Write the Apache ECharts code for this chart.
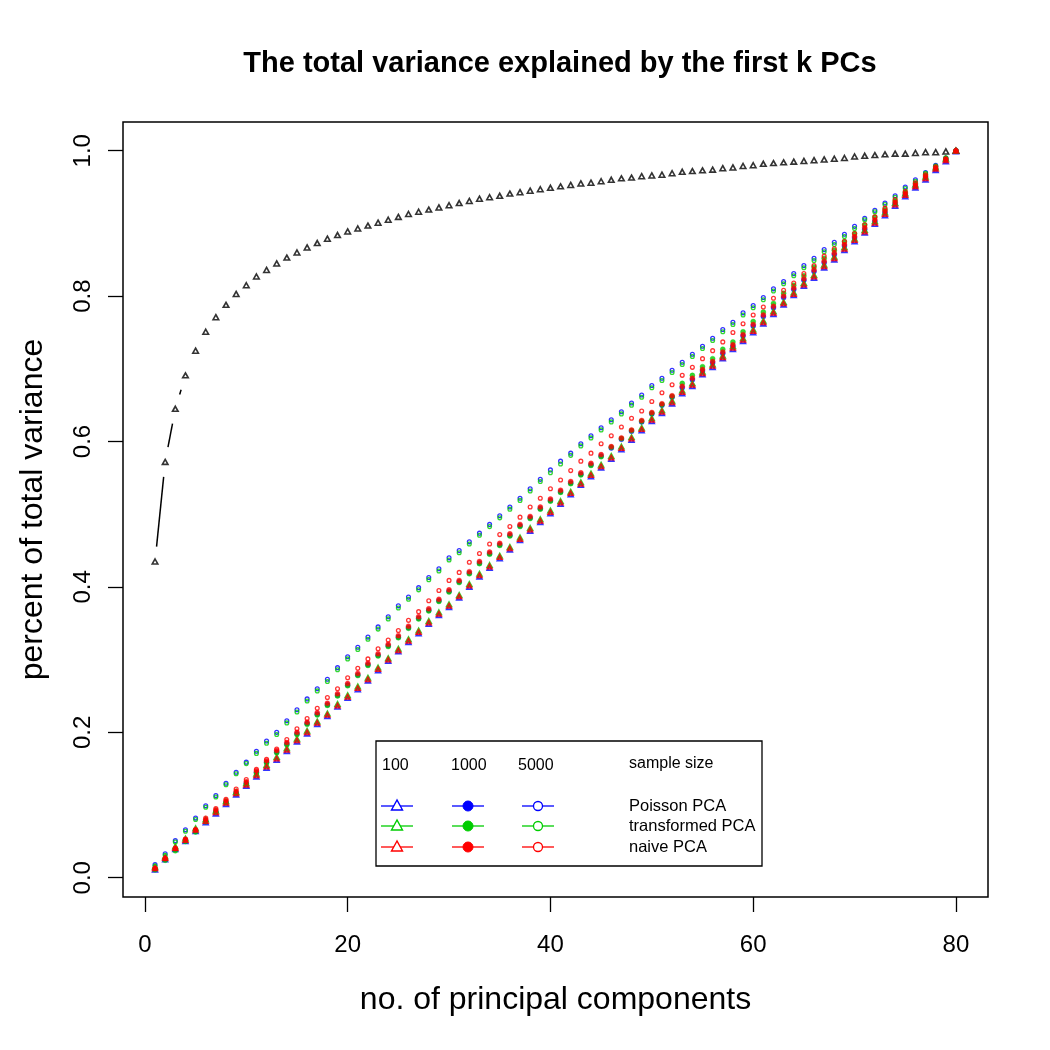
<!DOCTYPE html>
<html>
<head>
<meta charset="utf-8">
<script src="https://cdn.jsdelivr.net/npm/echarts@6/dist/echarts.min.js"></script>
<style>
  html, body { margin: 0; padding: 0; background: #fff; }
  #main { width: 1050px; height: 1050px; }
</style>
</head>
<body>
<div id="main"></div>
<script>
// number of principal components 1..80
var components = [];
for (var k = 1; k <= 80; k++) components.push(k);

var xTicks = [0, 20, 40, 60, 80];
var yTicks = [0, 0.2, 0.4, 0.6, 0.8, 1.0];

// black triangles (the top curve)
var firstKVar = [
  0.435, 0.572, 0.645, 0.691, 0.725, 0.751, 0.771, 0.788, 0.803, 0.815,
  0.827, 0.836, 0.845, 0.853, 0.860, 0.867, 0.873, 0.879, 0.884, 0.889,
  0.893, 0.897, 0.901, 0.905, 0.909, 0.913, 0.916, 0.919, 0.922, 0.925,
  0.928, 0.931, 0.934, 0.936, 0.938, 0.941, 0.943, 0.945, 0.947, 0.949,
  0.951, 0.953, 0.955, 0.956, 0.958, 0.960, 0.962, 0.963, 0.965, 0.966,
  0.967, 0.969, 0.971, 0.972, 0.973, 0.974, 0.976, 0.977, 0.979, 0.980,
  0.982, 0.983, 0.984, 0.985, 0.986, 0.987, 0.988, 0.989, 0.990, 0.992,
  0.993, 0.994, 0.995, 0.996, 0.996, 0.997, 0.998, 0.998, 0.999, 1.000
];

// Poisson PCA
var pois100 = [
  0.011, 0.025, 0.039, 0.050, 0.064, 0.076, 0.088, 0.101, 0.114, 0.126,
  0.139, 0.151, 0.162, 0.174, 0.187, 0.198, 0.211, 0.222, 0.235, 0.247,
  0.259, 0.271, 0.285, 0.298, 0.311, 0.324, 0.336, 0.349, 0.361, 0.372,
  0.385, 0.400, 0.414, 0.426, 0.439, 0.451, 0.464, 0.477, 0.489, 0.501,
  0.514, 0.527, 0.540, 0.552, 0.564, 0.576, 0.589, 0.602, 0.615, 0.628,
  0.639, 0.652, 0.666, 0.676, 0.692, 0.702, 0.714, 0.727, 0.738, 0.750,
  0.762, 0.775, 0.788, 0.801, 0.814, 0.825, 0.839, 0.850, 0.863, 0.875,
  0.887, 0.899, 0.911, 0.924, 0.937, 0.949, 0.960, 0.973, 0.985, 0.999
];
var pois1000 = [
  0.012, 0.025, 0.039, 0.052, 0.064, 0.078, 0.091, 0.104, 0.117, 0.130,
  0.145, 0.159, 0.173, 0.184, 0.198, 0.212, 0.225, 0.238, 0.251, 0.265,
  0.279, 0.293, 0.306, 0.319, 0.331, 0.344, 0.357, 0.368, 0.381, 0.394,
  0.407, 0.419, 0.433, 0.446, 0.458, 0.471, 0.484, 0.495, 0.508, 0.519,
  0.531, 0.543, 0.555, 0.568, 0.580, 0.591, 0.603, 0.614, 0.627, 0.638,
  0.650, 0.661, 0.674, 0.685, 0.697, 0.708, 0.721, 0.731, 0.745, 0.759,
  0.772, 0.784, 0.798, 0.809, 0.822, 0.834, 0.846, 0.857, 0.869, 0.880,
  0.892, 0.903, 0.915, 0.927, 0.939, 0.951, 0.963, 0.975, 0.987, 1.000
];
var pois5000 = [
  0.018, 0.033, 0.051, 0.066, 0.082, 0.099, 0.113, 0.130, 0.145, 0.159,
  0.174, 0.188, 0.200, 0.216, 0.231, 0.246, 0.260, 0.273, 0.289, 0.304,
  0.317, 0.331, 0.345, 0.359, 0.374, 0.386, 0.399, 0.413, 0.425, 0.440,
  0.450, 0.462, 0.474, 0.486, 0.498, 0.510, 0.522, 0.535, 0.548, 0.561,
  0.573, 0.584, 0.597, 0.608, 0.619, 0.630, 0.641, 0.653, 0.664, 0.677,
  0.687, 0.698, 0.709, 0.720, 0.731, 0.742, 0.754, 0.764, 0.777, 0.787,
  0.798, 0.810, 0.820, 0.831, 0.842, 0.852, 0.864, 0.874, 0.885, 0.896,
  0.907, 0.918, 0.928, 0.938, 0.950, 0.960, 0.970, 0.980, 0.990, 1.000
];

// transformed PCA
var trans100 = [
  0.015, 0.029, 0.043, 0.054, 0.068, 0.080, 0.092, 0.105, 0.118, 0.130,
  0.143, 0.155, 0.166, 0.178, 0.191, 0.202, 0.215, 0.226, 0.239, 0.251,
  0.263, 0.275, 0.289, 0.302, 0.315, 0.328, 0.340, 0.353, 0.365, 0.376,
  0.389, 0.404, 0.418, 0.430, 0.443, 0.455, 0.468, 0.481, 0.493, 0.505,
  0.518, 0.531, 0.544, 0.556, 0.568, 0.580, 0.593, 0.606, 0.619, 0.632,
  0.643, 0.656, 0.670, 0.680, 0.696, 0.706, 0.718, 0.731, 0.742, 0.754,
  0.766, 0.779, 0.792, 0.805, 0.818, 0.829, 0.843, 0.854, 0.867, 0.879,
  0.891, 0.903, 0.915, 0.928, 0.941, 0.953, 0.964, 0.977, 0.989, 1.000
];
var trans1000 = [
  0.011, 0.024, 0.037, 0.050, 0.063, 0.077, 0.090, 0.103, 0.116, 0.129,
  0.144, 0.158, 0.172, 0.183, 0.197, 0.211, 0.224, 0.237, 0.250, 0.264,
  0.278, 0.292, 0.305, 0.318, 0.330, 0.343, 0.356, 0.367, 0.380, 0.393,
  0.406, 0.418, 0.432, 0.445, 0.457, 0.470, 0.483, 0.494, 0.507, 0.518,
  0.530, 0.542, 0.554, 0.567, 0.579, 0.592, 0.604, 0.615, 0.628, 0.639,
  0.651, 0.662, 0.680, 0.691, 0.703, 0.714, 0.727, 0.737, 0.751, 0.765,
  0.778, 0.790, 0.804, 0.815, 0.828, 0.840, 0.852, 0.863, 0.875, 0.886,
  0.898, 0.909, 0.919, 0.931, 0.943, 0.955, 0.967, 0.978, 0.990, 1.000
];
var trans5000 = [
  0.016, 0.031, 0.049, 0.064, 0.080, 0.097, 0.111, 0.128, 0.143, 0.157,
  0.171, 0.185, 0.197, 0.213, 0.228, 0.243, 0.257, 0.270, 0.286, 0.301,
  0.314, 0.328, 0.342, 0.356, 0.371, 0.383, 0.396, 0.410, 0.422, 0.437,
  0.447, 0.459, 0.471, 0.483, 0.495, 0.507, 0.519, 0.532, 0.545, 0.557,
  0.569, 0.581, 0.594, 0.605, 0.616, 0.627, 0.638, 0.650, 0.661, 0.674,
  0.684, 0.695, 0.706, 0.717, 0.728, 0.739, 0.751, 0.761, 0.774, 0.784,
  0.795, 0.807, 0.817, 0.828, 0.839, 0.849, 0.861, 0.871, 0.882, 0.893,
  0.905, 0.916, 0.926, 0.936, 0.948, 0.958, 0.969, 0.979, 0.989, 1.000
];

// naive PCA
var naive100 = [
  0.013, 0.027, 0.041, 0.052, 0.066, 0.078, 0.090, 0.103, 0.116, 0.128,
  0.141, 0.153, 0.164, 0.176, 0.189, 0.200, 0.213, 0.224, 0.237, 0.249,
  0.261, 0.273, 0.287, 0.300, 0.313, 0.326, 0.338, 0.351, 0.363, 0.374,
  0.387, 0.402, 0.416, 0.428, 0.441, 0.453, 0.466, 0.479, 0.491, 0.503,
  0.516, 0.529, 0.542, 0.554, 0.566, 0.578, 0.591, 0.604, 0.617, 0.630,
  0.641, 0.654, 0.668, 0.678, 0.694, 0.704, 0.716, 0.729, 0.740, 0.752,
  0.764, 0.777, 0.790, 0.803, 0.816, 0.827, 0.841, 0.852, 0.865, 0.877,
  0.889, 0.901, 0.913, 0.926, 0.939, 0.951, 0.962, 0.975, 0.987, 1.000
];
var naive1000 = [
  0.013, 0.026, 0.040, 0.053, 0.066, 0.080, 0.093, 0.106, 0.119, 0.132,
  0.147, 0.161, 0.175, 0.186, 0.200, 0.214, 0.227, 0.240, 0.253, 0.267,
  0.281, 0.295, 0.308, 0.321, 0.333, 0.346, 0.359, 0.370, 0.383, 0.396,
  0.409, 0.421, 0.435, 0.448, 0.460, 0.473, 0.486, 0.497, 0.510, 0.521,
  0.533, 0.545, 0.557, 0.570, 0.582, 0.593, 0.605, 0.616, 0.629, 0.640,
  0.652, 0.663, 0.676, 0.687, 0.699, 0.710, 0.723, 0.733, 0.747, 0.761,
  0.774, 0.786, 0.800, 0.811, 0.824, 0.836, 0.848, 0.859, 0.871, 0.882,
  0.894, 0.905, 0.917, 0.929, 0.941, 0.953, 0.965, 0.976, 0.988, 1.000
];
var naive5000 = [
  0.013, 0.027, 0.041, 0.053, 0.066, 0.082, 0.095, 0.108, 0.122, 0.135,
  0.149, 0.163, 0.177, 0.190, 0.205, 0.219, 0.233, 0.248, 0.260, 0.275,
  0.288, 0.301, 0.315, 0.327, 0.340, 0.354, 0.366, 0.381, 0.395, 0.409,
  0.420, 0.434, 0.446, 0.459, 0.472, 0.483, 0.496, 0.510, 0.522, 0.535,
  0.547, 0.560, 0.573, 0.584, 0.597, 0.608, 0.620, 0.632, 0.642, 0.655,
  0.667, 0.678, 0.691, 0.702, 0.714, 0.725, 0.737, 0.750, 0.762, 0.774,
  0.785, 0.797, 0.808, 0.818, 0.831, 0.842, 0.855, 0.865, 0.875, 0.886,
  0.898, 0.909, 0.921, 0.933, 0.944, 0.956, 0.967, 0.978, 0.989, 1.000
];

var BLUE = '#0000ff', GREEN = '#00cd00', RED = '#ff0000';
var FONT = '"Liberation Sans", Arial, Helvetica, sans-serif';

function pairs(ys) {
  return components.map(function (x, i) { return [x, ys[i]]; });
}

// one scatter series per method / sample size
function marks(name, ys, color, kind) {
  var s = {
    name: name,
    type: 'scatter',
    data: pairs(ys),
    silent: true,
    z: 3
  };
  if (kind === 'tri') {
    s.symbol = 'triangle';
    s.symbolSize = [4.6, 4.2];
    s.itemStyle = { color: 'rgba(0,0,0,0)', borderColor: color, borderWidth: 1.8 };
  } else if (kind === 'dot') {
    s.symbol = 'circle';
    s.symbolSize = 5;
    s.itemStyle = { color: color, borderColor: color, borderWidth: 0.4 };
  } else {
    s.symbol = 'circle';
    s.symbolSize = 3.8;
    s.itemStyle = { color: 'rgba(0,0,0,0)', borderColor: color, borderWidth: 1.3 };
  }
  return s;
}

// segments of type="b" : line between points with a gap round each point
var segData = [];
for (var i = 0; i < firstKVar.length - 1; i++) {
  segData.push([components[i], firstKVar[i], components[i + 1], firstKVar[i + 1]]);
}
var GAP = 15;

var chart = echarts.init(document.getElementById('main'));

var option = {
  animation: false,
  backgroundColor: '#fff',
  textStyle: { fontFamily: FONT, color: '#000' },
  title: {
    text: 'The total variance explained by the first k PCs',
    left: 555,
    textAlign: 'center',
    top: 44,
    textStyle: { fontFamily: FONT, fontWeight: 'bold', fontSize: 29, color: '#000' }
  },
  grid: {
    left: 123, right: 62, top: 122, bottom: 153,
    show: true, borderColor: '#000', borderWidth: 1.5,
    containLabel: false
  },
  xAxis: {
    type: 'value',
    min: -2.16, max: 83.16,
    name: 'no. of principal components',
    nameLocation: 'middle',
    nameGap: 87,
    nameMoveOverlap: false,
    nameTextStyle: { fontFamily: FONT, fontSize: 32, color: '#000' },
    axisLine: { show: false, onZero: false },
    splitLine: { show: false },
    axisTick: { show: true, length: 15, customValues: xTicks, lineStyle: { color: '#000', width: 1.3 } },
    axisLabel: { customValues: xTicks, fontSize: 24, color: '#000', margin: 36, fontFamily: FONT }
  },
  yAxis: {
    type: 'value',
    min: -0.0265, max: 1.0395,
    name: 'percent of total variance',
    nameLocation: 'middle',
    nameRotate: 90,
    nameGap: 74,
    nameMoveOverlap: false,
    nameTextStyle: { fontFamily: FONT, fontSize: 32, color: '#000' },
    axisLine: { show: false, onZero: false },
    splitLine: { show: false },
    axisTick: { show: true, length: 15, customValues: yTicks, lineStyle: { color: '#000', width: 1.3 } },
    axisLabel: {
      customValues: yTicks, fontSize: 24, color: '#000', margin: 28, rotate: 90, fontFamily: FONT,
      formatter: function (v) { return v.toFixed(1); }
    }
  },
  series: [
    {
      name: 'segments',
      type: 'custom',
      data: segData,
      encode: { x: [0, 2], y: [1, 3] },
      silent: true,
      z: 2,
      renderItem: function (params, api) {
        var p0 = api.coord([api.value(0), api.value(1)]);
        var p1 = api.coord([api.value(2), api.value(3)]);
        var dx = p1[0] - p0[0], dy = p1[1] - p0[1];
        var d = Math.sqrt(dx * dx + dy * dy);
        if (d <= 2 * GAP) return null;
        var ux = dx / d, uy = dy / d;
        return {
          type: 'line',
          shape: {
            x1: p0[0] + ux * GAP, y1: p0[1] + uy * GAP,
            x2: p1[0] - ux * GAP, y2: p1[1] - uy * GAP
          },
          style: { stroke: '#000', lineWidth: 1.5 }
        };
      }
    },
    {
      name: 'all',
      type: 'scatter',
      data: pairs(firstKVar),
      symbol: 'triangle',
      symbolSize: [5.6, 5],
      silent: true,
      z: 2,
      itemStyle: { color: '#fff', borderColor: '#000', borderWidth: 1.6 }
    },
    marks('Poisson 100', pois100, BLUE, 'tri'),
    marks('Poisson 1000', pois1000, BLUE, 'dot'),
    marks('Poisson 5000', pois5000, BLUE, 'open'),
    marks('transformed 100', trans100, GREEN, 'tri'),
    marks('transformed 1000', trans1000, GREEN, 'dot'),
    marks('transformed 5000', trans5000, GREEN, 'open'),
    marks('naive 100', naive100, RED, 'tri'),
    marks('naive 1000', naive1000, RED, 'dot'),
    marks('naive 5000', naive5000, RED, 'open')
  ]
};

// legend drawn the R way: 3 columns of sample size, 3 rows of method
var legX = 376, legY = 741, legW = 386, legH = 125;
var colX = [397, 468, 538];
var rowY = [806, 826, 847];
var rowColors = [BLUE, GREEN, RED];
var rowNames = ['Poisson PCA', 'transformed PCA', 'naive PCA'];
var sizeNames = ['100', '1000', '5000'];
var kinds = ['tri', 'dot', 'open'];

var g = [{
  type: 'rect', z: 10,
  shape: { x: legX, y: legY, width: legW, height: legH },
  style: { fill: '#fff', stroke: '#000', lineWidth: 1.3 }
}];
var headX = [382, 451, 518];
sizeNames.forEach(function (t, j) {
  g.push({ type: 'text', z: 11, x: headX[j], y: 766,
    style: { text: t, fontSize: 16, fontFamily: FONT, fill: '#000', verticalAlign: 'middle' } });
});
g.push({ type: 'text', z: 11, x: 629, y: 764,
  style: { text: 'sample size', fontSize: 16, fontFamily: FONT, fill: '#000', verticalAlign: 'middle' } });
rowNames.forEach(function (t, r) {
  var col = rowColors[r];
  var y = rowY[r];
  g.push({ type: 'text', z: 11, x: 629, y: y,
    style: { text: t, fontSize: 16.5, fontFamily: FONT, fill: '#000', verticalAlign: 'middle' } });
  colX.forEach(function (cx, j) {
    g.push({ type: 'line', z: 11, shape: { x1: cx - 16, y1: y, x2: cx + 16, y2: y },
      style: { stroke: col, lineWidth: 1.3 } });
    if (kinds[j] === 'tri') {
      g.push({ type: 'polygon', z: 12,
        shape: { points: [[cx, y - 6], [cx - 5.5, y + 4], [cx + 5.5, y + 4]] },
        style: { fill: '#fff', stroke: col, lineWidth: 1.4 } });
    } else if (kinds[j] === 'dot') {
      g.push({ type: 'circle', z: 12, shape: { cx: cx, cy: y, r: 5 },
        style: { fill: col, stroke: col, lineWidth: 1 } });
    } else {
      g.push({ type: 'circle', z: 12, shape: { cx: cx, cy: y, r: 4.5 },
        style: { fill: '#fff', stroke: col, lineWidth: 1.3 } });
    }
  });
});
option.graphic = g;

chart.setOption(option);
</script>
</body>
</html>
